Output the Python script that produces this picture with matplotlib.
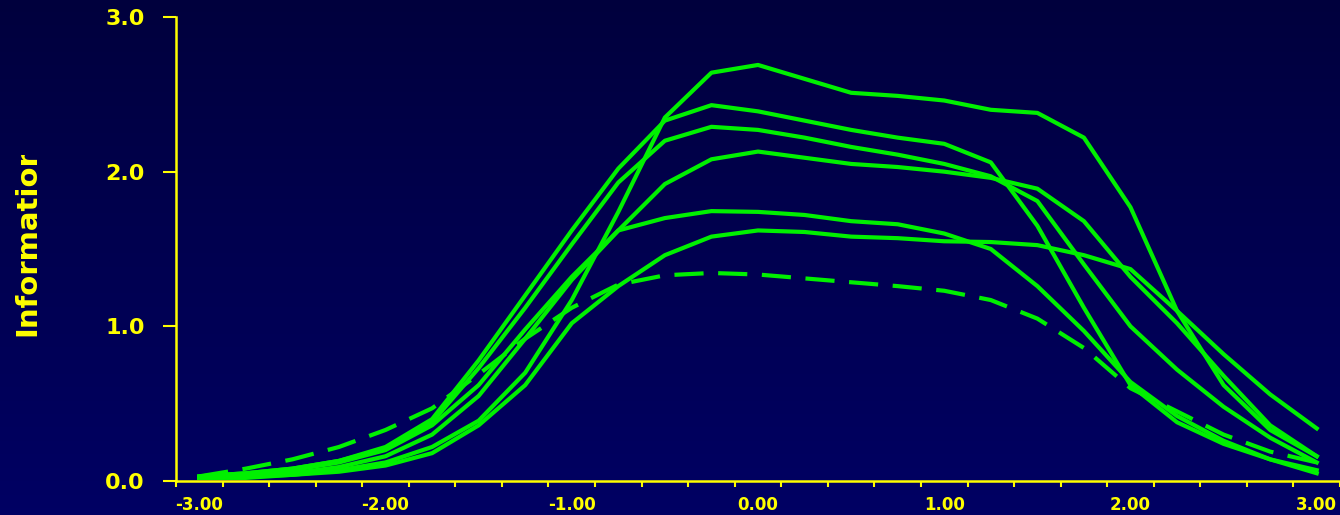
import numpy as np
import matplotlib.pyplot as plt
from matplotlib.transforms import Bbox, TransformedBbox

# ability scale
theta = [-3.0, -2.75, -2.5, -2.25, -2.0, -1.75, -1.5, -1.25, -1.0, -0.75, -0.5, -0.25, 0.0,
         0.25, 0.5, 0.75, 1.0, 1.25, 1.5, 1.75, 2.0, 2.25, 2.5, 2.75, 3.0]

# information curves
form_a = [0.02, 0.03, 0.04, 0.07, 0.12, 0.22, 0.39, 0.70, 1.17, 1.74, 2.35, 2.64, 2.69,
          2.60, 2.51, 2.49, 2.46, 2.40, 2.38, 2.22, 1.77, 1.10, 0.62, 0.33, 0.16]
form_b = [0.03, 0.05, 0.08, 0.13, 0.22, 0.40, 0.78, 1.20, 1.62, 2.02, 2.33, 2.43, 2.39,
          2.33, 2.27, 2.22, 2.18, 2.06, 1.65, 1.12, 0.62, 0.38, 0.24, 0.14, 0.07]
form_c = [0.03, 0.05, 0.08, 0.13, 0.21, 0.38, 0.73, 1.12, 1.53, 1.93, 2.20, 2.29, 2.27,
          2.22, 2.16, 2.11, 2.05, 1.97, 1.81, 1.40, 1.00, 0.72, 0.48, 0.28, 0.12]
form_d = [0.02, 0.03, 0.05, 0.09, 0.16, 0.30, 0.55, 0.92, 1.30, 1.62, 1.92, 2.08, 2.13,
          2.09, 2.05, 2.03, 2.00, 1.96, 1.89, 1.68, 1.32, 1.02, 0.68, 0.36, 0.16]
form_e = [0.02, 0.04, 0.07, 0.12, 0.20, 0.36, 0.62, 0.98, 1.32, 1.62, 1.70, 1.745, 1.74,
          1.72, 1.68, 1.66, 1.60, 1.50, 1.26, 0.97, 0.64, 0.42, 0.26, 0.14, 0.05]
form_f = [0.02, 0.02, 0.04, 0.06, 0.10, 0.18, 0.36, 0.62, 1.02, 1.26, 1.46, 1.58, 1.62,
          1.61, 1.58, 1.57, 1.55, 1.545, 1.525, 1.46, 1.37, 1.10, 0.82, 0.56, 0.34]
form_ref = [0.03, 0.08, 0.14, 0.22, 0.33, 0.47, 0.69, 0.92, 1.12, 1.27, 1.33, 1.345, 1.335,
            1.31, 1.285, 1.26, 1.23, 1.17, 1.05, 0.86, 0.60, 0.45, 0.30, 0.19, 0.12]

x_labels = ["-3.00", "-2.00", "-1.00", "0.00", "1.00", "2.00", "3.00"]
y_labels = ["0.0", "1.0", "2.0", "3.0"]

yellow = "#ffff00"
green = "#00f000"

fig = plt.figure(figsize=(13.4, 5.15), dpi=100)

# navy gradient background
bg = fig.add_axes([0, 0, 1, 1])
grad = np.linspace(0, 1, 256).reshape(-1, 1)
top = np.array([0.0, 0.0, 0.24])
bottom = np.array([0.0, 0.0, 0.39])
img = top + (bottom - top) * grad[:, :, None]
bg.imshow(img, aspect="auto", extent=[0, 1, 0, 1])
bg.axis("off")

ax = fig.add_axes([176 / 1340, 1 - 481 / 515, 1 - 176 / 1340, 464 / 515])
ax.patch.set_alpha(0)

for curve in [form_a, form_b, form_c, form_d, form_e, form_f]:
    ax.plot(theta, curve, color=green, lw=3, solid_joinstyle="round")
ax.plot(theta, form_ref, color=green, lw=3, linestyle=(0, (7, 3.5)))

ax.set_xlim(-3.125, 3.125)
ax.set_ylim(0, 3)

for side in ["top", "right"]:
    ax.spines[side].set_visible(False)
for side in ["left", "bottom"]:
    ax.spines[side].set_color(yellow)
    ax.spines[side].set_linewidth(1.8)

ax.set_xticks(range(-3, 4))
ax.set_xticklabels(x_labels)
ax.set_xticks(np.arange(-3.125, 3.2, 0.25), minor=True)
ax.set_yticks(range(0, 4))
ax.set_yticklabels(y_labels)

ax.tick_params(axis="x", which="major", length=0, pad=11, colors=yellow, labelsize=12)
ax.tick_params(axis="x", which="minor", length=4.5, width=1.5, color=yellow)
ax.tick_params(axis="y", which="major", length=9.5, width=1.5, pad=13, colors=yellow,
               labelsize=16)
for lab in ax.get_xticklabels() + ax.get_yticklabels():
    lab.set_fontweight("bold")

# y label, cut off at the top as in the original
t = fig.text(35 / 1340, (515 - 336) / 515, "Information", rotation=90,
             rotation_mode="anchor", ha="left", va="baseline",
             color=yellow, fontsize=21, fontweight="bold")
t.set_clip_box(TransformedBbox(Bbox([[0, 0], [0.1, (515 - 155) / 515]]), fig.transFigure))
t.set_clip_on(True)

fig.savefig("out.png", dpi=100)
